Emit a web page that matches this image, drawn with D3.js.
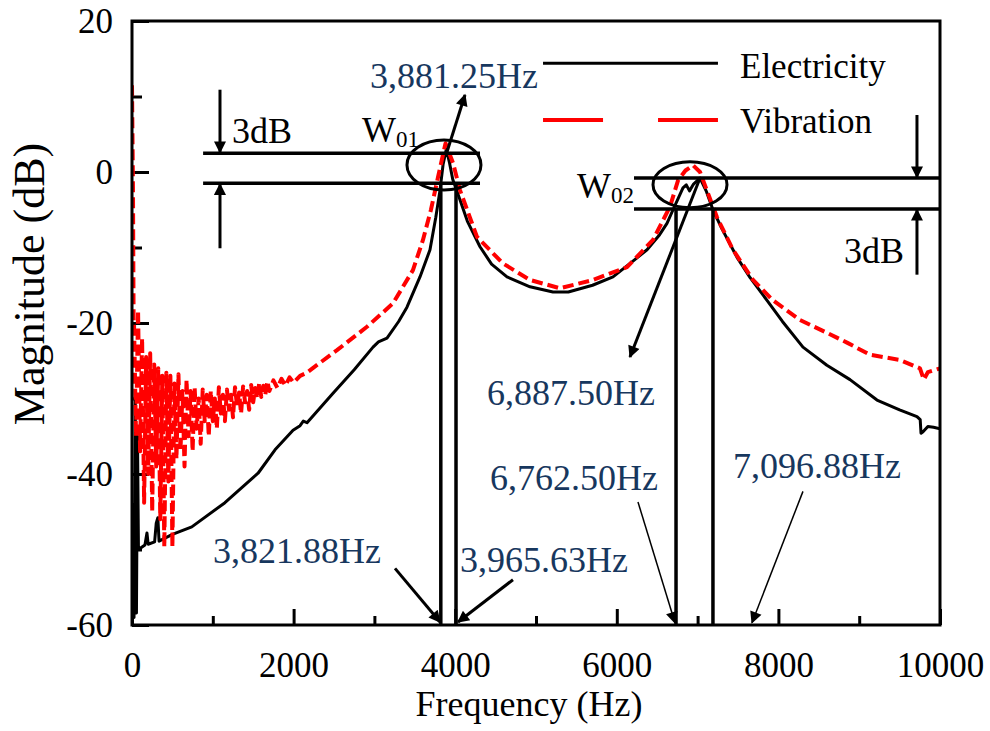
<!DOCTYPE html>
<html>
<head>
<meta charset="utf-8">
<script src="https://cdn.jsdelivr.net/npm/d3@7"></script>
<style>
    body { margin: 0; background: #fff; }
    svg text { font-family: "Liberation Serif", "Times New Roman", serif; }
</style>
</head>
<body>
<svg id="drawing_region"></svg>
<script>
// Electricity (black, solid): [frequency Hz, magnitude dB]
const electricity = [
    [0,-57],[15,-44],[25,-59],[40,-29.8],[55,-58.4],[68,-35],[80,-50],[120,-49.7],[160,-49.4],
    [185,-47.8],[200,-49.3],[280,-49.0],[300,-46.5],[320,-45.8],[335,-48.9],[500,-48],[740,-47],
    [1150,-43.8],[1560,-39.9],[1770,-36.8],[1993,-34.2],[2080,-33.6],[2120,-33.0],[2166,-33.2],
    [2488,-29.3],[2750,-26.2],[2983,-23.2],[3050,-22.5],[3156,-22.0],[3300,-19.8],[3403,-17.9],
    [3564,-13.9],[3688,-10.3],[3760,-6],[3812,-2.4],[3850,1],[3890,3.0],[3930,1.2],[3970,-1.0],
    [4060,-3.7],[4150,-6.5],[4307,-9.9],[4450,-12.2],[4641,-13.9],[4926,-15.2],[5210,-15.9],
    [5400,-15.9],[5700,-15.0],[5953,-13.9],[6200,-11.8],[6374,-10.3],[6530,-8.3],[6621,-6.8],
    [6696,-5.0],[6760,-3.5],[6819,-2.1],[6860,-1.7],[6900,-2.5],[6950,-1.6],[7030,-0.8],
    [7110,-2.6],[7190,-5.0],[7300,-7.5],[7488,-11.3],[7650,-14.0],[7859,-17.0],[8050,-19.8],
    [8304,-23.2],[8600,-25.6],[8886,-27.5],[9220,-30.2],[9500,-31.5],[9715,-32.4],[9755,-32.8],
    [9765,-34.6],[9790,-34.4],[9850,-33.7],[9920,-33.8],[10000,-34.0]
];

// Vibration (red, dashed): [frequency Hz, magnitude dB]
const vibration = [
    [0,11.5],[12,-2],[20,-20],[25,-20],[50,-35],[75,-18.3],[100,-37],[125,-22],[150,-43.8],
    [175,-24.5],[200,-40],[225,-24],[250,-45],[275,-25.5],[300,-39],[325,-26],[350,-46],
    [375,-27],[400,-49.7],[425,-26.6],[450,-41],[475,-27],[500,-49.7],[525,-28],[550,-38],
    [575,-26.8],[600,-37],[625,-29],[650,-39],[675,-27.5],[700,-35],[725,-29],[750,-37],
    [775,-28.5],[800,-34],[825,-30],[850,-36],[875,-28.8],[900,-33],[925,-29.5],[950,-35],
    [975,-29],[1000,-33],[1025,-30],[1050,-34],[1075,-28.5],[1100,-32],[1125,-29.5],[1150,-33],
    [1175,-28.8],[1200,-31.5],[1225,-29.5],[1250,-32.5],[1275,-28.5],[1300,-31],[1325,-29.2],
    [1350,-32],[1375,-28.4],[1400,-30.5],[1425,-29],[1450,-31.5],[1475,-28.2],[1500,-30.5],
    [1525,-28.6],[1550,-30],[1575,-27.9],[1600,-29.8],[1625,-28.3],[1650,-29.5],[1675,-27.7],
    [1700,-29],[1750,-27.6],[1800,-28.6],[1850,-27.4],[1900,-28.3],[1950,-27.2],[2000,-27.9],
    [2080,-27.0],[2160,-26.6],[2537,-23.6],[2908,-20.5],[3230,-17.4],[3477,-13.0],[3601,-9.0],
    [3700,-5],[3787,-0.7],[3880,3.8],[3973,1.2],[4059,-2.4],[4270,-8.6],[4590,-12.1],
    [4926,-14.3],[5297,-15.4],[5705,-14.3],[6126,-12.6],[6448,-9.0],[6658,-4.6],[6758,-1.1],
    [6850,0.2],[6943,0.9],[7030,0],[7240,-6.0],[7438,-10.3],[7686,-14.3],[7933,-17.0],
    [8267,-19.6],[8601,-21.3],[8849,-22.6],[9133,-24.2],[9505,-24.9],[9752,-26],[9800,-27.5],
    [9850,-26.5],[10000,-26]
];

const series_names = ['Electricity', 'Vibration'];
const x_ticks = [0, 2000, 4000, 6000, 8000, 10000];
const x_minor = [1000, 3000, 5000, 7000, 9000];
const y_ticks = [-60, -40, -20, 0, 20];
const y_minor = [-50, -30, -10, 10];

// half-power frequencies (labels) and where the figure draws their lines
const cutoff_labels = ['3,821.88Hz', '3,965.63Hz', '6,762.50Hz', '7,096.88Hz'];
const cutoff_line_hz = [3821.88, 4010, 6733, 7190];
const peak_labels = ['3,881.25Hz', '6,887.50Hz'];

var config = {
    parent: '#drawing_region',
    width: 990,
    height: 731,
    margin: {top:21, right:50, bottom:106, left:132}
};

class SpectrumChart {

    constructor( config ) {
        this.config = config;
        this.navy = '#17375e';
        this.init();
    }

    init() {
        let self = this;

        self.svg = d3.select( self.config.parent )
            .attr('width', self.config.width)
            .attr('height', self.config.height);

        self.inner_width = self.config.width - self.config.margin.left - self.config.margin.right;
        self.inner_height = self.config.height - self.config.margin.top - self.config.margin.bottom;

        self.chart = self.svg.append('g')
            .attr('transform', `translate(${self.config.margin.left}, ${self.config.margin.top})`);

        self.xscale = d3.scaleLinear()
            .domain( [0, 10000] )
            .range( [0, self.inner_width] );

        self.yscale = d3.scaleLinear()
            .domain( [-60, 20] )
            .range( [self.inner_height, 0] );

        let defs = self.svg.append('defs');
        defs.append('clipPath').attr('id', 'plot_clip')
            .append('rect')
            .attr('width', self.inner_width)
            .attr('height', self.inner_height);
        defs.append('marker')
            .attr('id', 'arrow')
            .attr('viewBox', '0 0 10 10')
            .attr('refX', 9).attr('refY', 5)
            .attr('markerUnits', 'userSpaceOnUse')
            .attr('markerWidth', 16).attr('markerHeight', 12)
            .attr('orient', 'auto')
            .append('path').attr('d', 'M0,0 L10,5 L0,10 Z').attr('fill', 'black');
    }

    render() {
        let self = this;
        const xs = self.xscale, ys = self.yscale;

        // axes with inward ticks
        const style_axis = (g, size) => {
            g.select('.domain').remove();
            g.selectAll('.tick line').attr('stroke', 'black').attr('stroke-width', 3);
            g.selectAll('text').attr('fill', 'black').style('font-size', size + 'px');
        };

        self.chart.append('g')
            .attr('transform', `translate(0, ${self.inner_height})`)
            .call( d3.axisBottom(xs).tickValues(x_ticks).tickSizeInner(-16).tickSizeOuter(0)
                .tickPadding(27).tickFormat(d => d) )
            .call( g => style_axis(g, 35) );
        self.chart.append('g')
            .attr('transform', `translate(0, ${self.inner_height})`)
            .call( d3.axisBottom(xs).tickValues(x_minor).tickSize(-9).tickFormat('') )
            .call( g => style_axis(g, 35) );
        self.chart.append('g')
            .call( d3.axisLeft(ys).tickValues(y_ticks).tickSizeInner(-17).tickSizeOuter(0)
                .tickPadding(19).tickFormat(d => d) )
            .call( g => style_axis(g, 35) );
        self.chart.append('g')
            .call( d3.axisLeft(ys).tickValues(y_minor).tickSize(-10).tickFormat('') )
            .call( g => style_axis(g, 35) );

        // series
        const line = d3.line().x(d => xs(d[0])).y(d => ys(d[1]));
        const plot = self.chart.append('g').attr('clip-path', 'url(#plot_clip)');

        plot.append('path')
            .datum(electricity)
            .attr('d', line)
            .attr('fill', 'none')
            .attr('stroke', 'black')
            .attr('stroke-width', 3)
            .attr('stroke-linejoin', 'round');

        plot.append('path')
            .datum(vibration)
            .attr('d', line)
            .attr('fill', 'none')
            .attr('stroke', '#ff0000')
            .attr('stroke-width', 4)
            .attr('stroke-dasharray', '11,5')
            .attr('stroke-linejoin', 'round');

        // frame
        self.chart.append('rect')
            .attr('width', self.inner_width)
            .attr('height', self.inner_height)
            .attr('fill', 'none')
            .attr('stroke', 'black')
            .attr('stroke-width', 3);

        // 3dB bands, cutoff lines, ellipses
        const seg = (a, b, w, arrow) => {
            let l = self.chart.append('line')
                .attr('x1', xs(a[0])).attr('y1', ys(a[1]))
                .attr('x2', xs(b[0])).attr('y2', ys(b[1]))
                .attr('stroke', 'black').attr('stroke-width', w);
            if (arrow) l.attr('marker-end', 'url(#arrow)');
        };
        const label = (p, txt, color, anchor) => self.chart.append('text')
            .attr('x', xs(p[0])).attr('y', ys(p[1]))
            .attr('text-anchor', anchor || 'start')
            .attr('fill', color)
            .style('font-size', '36px')
            .text(txt);

        seg([880, 2.5], [4307, 2.5], 3.5);
        seg([880, -1.5], [4307, -1.5], 3.5);
        seg([6213, -0.8], [10000, -0.8], 3.5);
        seg([6213, -4.9], [10000, -4.9], 3.5);

        cutoff_line_hz.forEach((f, i) => {
            seg([f, i < 2 ? -1.5 : -4.9], [f, -60], 3.5);
        });

        [[3861, 0.93, 37, 25], [6906, -1.7, 37, 23]].forEach(e => {
            self.chart.append('ellipse')
                .attr('cx', xs(e[0])).attr('cy', ys(e[1]))
                .attr('rx', e[2]).attr('ry', e[3])
                .attr('fill', 'none').attr('stroke', 'black').attr('stroke-width', 3);
        });

        // arrows
        seg([1089, 10.9], [1089, 2.6], 3, true);
        seg([1089, -10.1], [1089, -1.6], 3, true);
        seg([9715, 7.55], [9715, -0.7], 3, true);
        seg([9715, -13.6], [9715, -5.0], 3, true);
        seg([3898, 2.65], [4121, 10.2], 3, true);
        seg([7030, -0.8], [6163, -24.5], 3, true);
        seg([3255, -52.5], [3812, -59.6], 3, true);
        seg([4715, -54.0], [4035, -59.6], 3, true);
        seg([6262, -43.7], [6720, -59.7], 1.5, true);
        seg([8304, -42.3], [7673, -59.7], 1.5, true);

        // texts
        label([2946, 11.1], peak_labels[0], self.navy);
        label([4394, -30.9], peak_labels[1], self.navy);
        label([1002, -51.8], cutoff_labels[0], self.navy);
        label([4059, -53.0], cutoff_labels[1], self.navy);
        label([4431, -42.1], cutoff_labels[2], self.navy);
        label([7438, -40.5], cutoff_labels[3], self.navy);
        label([1238, 3.8], '3dB', 'black');
        label([8812, -12.05], '3dB', 'black');

        [[[2847, 4.0], '01'], [[5507, -3.4], '02']].forEach(w => {
            let t = label(w[0], 'W', 'black');
            t.append('tspan').attr('dy', 5).style('font-size', '23px').text(w[1]);
        });

        // legend
        seg([5087, 14.4], [7252, 14.4], 3);
        self.chart.append('line')
            .attr('x1', xs(5087)).attr('x2', xs(7252))
            .attr('y1', ys(6.9)).attr('y2', ys(6.9))
            .attr('stroke', '#ff0000').attr('stroke-width', 4)
            .attr('stroke-dasharray', '60,55');
        label([7525, 12.45], series_names[0], 'black').style('font-size', '35px');
        label([7525, 5.17], series_names[1], 'black').style('font-size', '35px');

        // axis titles
        self.svg.append('text')
            .attr('x', self.config.margin.left + self.inner_width / 2 - 7)
            .attr('y', 716)
            .attr('text-anchor', 'middle')
            .style('font-size', '36px')
            .text('Frequency (Hz)');

        self.svg.append('text')
            .attr('transform', 'rotate(-90)')
            .attr('x', -284)
            .attr('y', 44)
            .attr('text-anchor', 'middle')
            .style('font-size', '44px')
            .text('Magnitude (dB)');
    }
}

let spectrum_chart = new SpectrumChart( config );
spectrum_chart.render();
</script>
</body>
</html>
